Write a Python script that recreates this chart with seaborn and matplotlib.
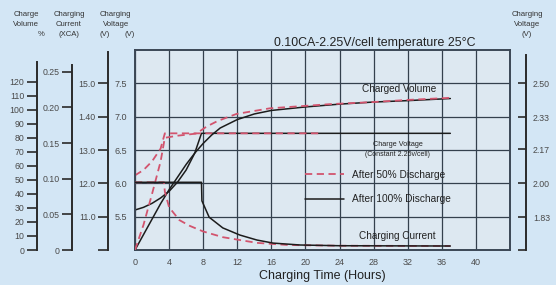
import matplotlib
matplotlib.use('Agg')
import matplotlib.pyplot as plt
from matplotlib.lines import Line2D
import seaborn as sns
import numpy as np

# Charging characteristics
# hours / volts (3-cell block)
t_v100 = [0, 1, 2, 3, 4, 5, 6, 7, 7.8, 37]
v100 = [5.6, 5.64, 5.7, 5.78, 5.88, 6.02, 6.2, 6.45, 6.75, 6.75]
t_v50 = [0, 1, 2, 3, 3.5, 22]
v50 = [6.12, 6.2, 6.33, 6.52, 6.75, 6.75]

# charged volume %
t_vol100 = [0, 1, 2, 3, 4, 5, 6, 7, 8, 9, 10, 12, 14, 16, 20, 24, 28, 32, 37]
vol100 = [0, 11, 22, 33, 43, 52, 61, 69, 76, 82, 87, 93, 97, 99.5, 102, 104, 105.5, 106.5, 108]
t_vol50 = [0, 1, 2, 3, 3.5, 5, 7.2, 8.4, 9.7, 11.9, 15.8, 22.9, 28, 32, 37]
vol50 = [0, 18, 40, 63, 80, 81.5, 83, 88, 92, 97, 101, 104, 105.5, 107, 108.5]

# charging current (xCA)
t_i100 = [0, 7.8, 7.85, 8.7, 10.3, 12.3, 14.3, 16.2, 19.4, 24, 37]
i100 = [0.095, 0.095, 0.069, 0.046, 0.031, 0.021, 0.014, 0.0097, 0.007, 0.006, 0.0056]
t_i50 = [0, 3.4, 3.5, 4, 5.2, 6.4, 8, 10.3, 14.3, 18, 24, 37]
i50 = [0.095, 0.095, 0.082, 0.06, 0.042, 0.034, 0.026, 0.018, 0.010, 0.007, 0.006, 0.0056]

hour_ticks = list(range(0, 41, 4))
volt_ticks = [5.5, 6.0, 6.5, 7.0, 7.5]
vol_ticks = list(range(0, 121, 10))
cur_ticks = [0, 0.05, 0.10, 0.15, 0.20, 0.25]
cur_labels = ['0', '0.05', '0.10', '0.15', '0.20', '0.25']
v12_ticks = [10, 11, 12, 13, 14, 15]
v12_labels = ['', '11.0', '12.0', '13.0', '1.40', '15.0']
cell_ticks = [5 / 3, 1.83, 2.0, 2.17, 2.33, 2.50]
cell_labels = ['', '1.83', '2.00', '2.17', '2.33', '2.50']

sns.set_theme(style='ticks')
plt.rcParams['font.family'] = ['Liberation Sans', 'DejaVu Sans']

W, H = 556, 285
fig = plt.figure(figsize=(W / 100, H / 100), dpi=100)
fig.patch.set_facecolor('#d3e6f5')

# plot box in pixels: x 135..510, y 50..250
ax = fig.add_axes([135 / W, 1 - 250 / H, 375 / W, 200 / H])
ax.set_facecolor('#dde8f1')

red = '#d2546e'
blk = '#1c1c1c'
tick_col = '#4a4a4a'
frame_col = '#3b4755'
dash = (0, (4, 2.5))

# voltage curves on the main axis
sns.lineplot(x=t_v100, y=v100, ax=ax, color=blk, lw=1.1, estimator=None, sort=False)
sns.lineplot(x=t_v50, y=v50, ax=ax, color=red, lw=1.3, linestyle=dash, estimator=None, sort=False)

ax.set_xlim(0, 44)
ax.set_ylim(5, 8)
ax.set_xticks(hour_ticks)
ax.set_yticks(volt_ticks)
ax.set_yticklabels([f'{v:.1f}' for v in volt_ticks])
ax.tick_params(axis='both', length=0, labelsize=6.5, colors=tick_col)
ax.tick_params(axis='x', pad=6)
ax.tick_params(axis='y', pad=6)
ax.grid(True, color='#34404d', lw=0.9)
for s in ax.spines.values():
    s.set_color(frame_col)
    s.set_linewidth(1.4)
ax.set_xlabel('Charging Time (Hours)', fontsize=9, color='#222222', labelpad=2)
ax.set_ylabel('')

def side_axis(frac, lo, hi, top, ticks, labels, side='left', direction='out'):
    tw = ax.twinx()
    tw.set_ylim(lo, hi)
    for s in tw.spines.values():
        s.set_visible(False)
    sp = tw.spines[side]
    sp.set_visible(True)
    sp.set_position(('axes', frac))
    sp.set_bounds(lo, top)
    sp.set_color('#2a2a2a')
    sp.set_linewidth(1.4)
    tw.yaxis.set_ticks_position(side)
    tw.set_yticks(ticks)
    tw.set_yticklabels(labels)
    tw.tick_params(axis='y', direction=direction, length=7, width=1.2, color='#2a2a2a',
                   labelsize=6.3, labelcolor=tick_col, pad=2)
    tw.grid(False)
    tw.set_ylabel('')
    return tw

# charged volume axis (%)
ax_vol = side_axis(-0.2613, 0, 142.6, 134, vol_ticks, [str(v) for v in vol_ticks])
# charging current axis (xCA)
ax_cur = side_axis(-0.168, 0, 0.2806, 0.26, cur_ticks, cur_labels)
# 12V block voltage axis
ax_v12 = side_axis(-0.072, 10, 16, 15.95, v12_ticks, v12_labels)
# per cell voltage axis on the right
ax_cell = side_axis(1.0427, 5 / 3, 8 / 3, 2.64, cell_ticks, cell_labels, side='right', direction='in')
ax_cell.tick_params(axis='y', length=6, pad=5)

sns.lineplot(x=t_vol100, y=vol100, ax=ax_vol, color=blk, lw=1.1, estimator=None, sort=False)
sns.lineplot(x=t_vol50, y=vol50, ax=ax_vol, color=red, lw=1.3, linestyle=dash, estimator=None, sort=False)
sns.lineplot(x=t_i50, y=i50, ax=ax_cur, color=red, lw=1.3, linestyle=dash, estimator=None, sort=False)
sns.lineplot(x=t_i100, y=i100, ax=ax_cur, color=blk, lw=1.1, estimator=None, sort=False)
for a in (ax_vol, ax_cur, ax_v12, ax_cell):
    a.set_xlim(0, 44)

# in-plot labels
ax.text(0.705, 0.805, 'Charged Volume', transform=ax.transAxes, ha='center', va='center',
        fontsize=7.2, color='#222222')
ax.text(0.70, 0.525, 'Charge Voltage', transform=ax.transAxes, ha='center', va='center',
        fontsize=5.2, color='#222222')
ax.text(0.70, 0.478, '(Constant 2.25v/cell)', transform=ax.transAxes, ha='center', va='center',
        fontsize=5.0, color='#222222')
ax.text(0.70, 0.07, 'Charging Current', transform=ax.transAxes, ha='center', va='center',
        fontsize=7.2, color='#222222')

handles = [Line2D([], [], color=red, lw=1.3, linestyle=dash),
           Line2D([], [], color=blk, lw=1.1)]
leg = ax.legend(handles, ['After 50% Discharge', 'After 100% Discharge'], loc='center left',
                bbox_to_anchor=(0.453, 0.315), frameon=False, fontsize=7.3, handlelength=3.9,
                handletextpad=0.7, labelspacing=1.45, borderpad=0, borderaxespad=0)
for t in leg.get_texts():
    t.set_color('#222222')

ax.set_title('0.10CA-2.25V/cell temperature 25°C', fontsize=8.9, color='#222222',
             loc='right', pad=3, x=0.908)

# axis headers
hdr = dict(fontsize=5.6, color='#333333', ha='center', va='center')
def px(x, y):
    return x / W, 1 - y / H
fig.text(*px(26, 15), 'Charge', **hdr)
fig.text(*px(26, 25), 'Volume', **hdr)
fig.text(*px(41, 35), '%', **hdr)
fig.text(*px(69, 15), 'Charging', **hdr)
fig.text(*px(69, 25), 'Current', **hdr)
fig.text(*px(69, 35), '(XCA)', **hdr)
fig.text(*px(115, 15), 'Charging', **hdr)
fig.text(*px(116, 25), 'Voltage', **hdr)
fig.text(*px(105, 35), '(V)', **hdr)
fig.text(*px(130, 35), '(V)', **hdr)
fig.text(*px(527, 15), 'Charging', **hdr)
fig.text(*px(527, 25), 'Voltage', **hdr)
fig.text(*px(527, 35), '(V)', **hdr)

fig.savefig('out.png', dpi=100, facecolor=fig.get_facecolor())
